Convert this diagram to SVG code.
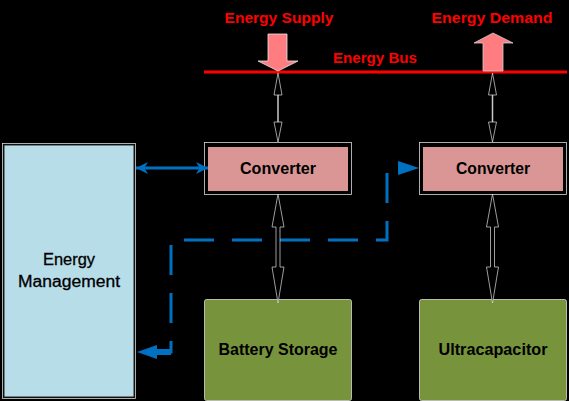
<svg xmlns="http://www.w3.org/2000/svg" width="569" height="401" viewBox="0 0 569 401">
<style>
.lbl{font-family:"Liberation Sans",Arial,sans-serif;font-weight:bold;font-size:16px;fill:#000;text-anchor:middle}
.red{font-family:"Liberation Sans",Arial,sans-serif;font-weight:bold;font-size:15.5px;fill:#FF0000;text-anchor:middle}
.em{font-family:"Liberation Sans",Arial,sans-serif;font-size:16px;fill:#000;text-anchor:middle;stroke:#000;stroke-width:0.3}
.conv{fill:#D99694;stroke:#000;stroke-width:3}
.outer{fill:none;stroke:#d8d8d8;stroke-width:0.8}
.store{fill:#77933C;stroke:#d8d8d8;stroke-width:0.8}
.blue{fill:none;stroke:#0070C0;stroke-width:3}
.thin{fill:#000;stroke:#e0e0e0;stroke-width:0.7}
</style>
<defs>
<marker id="bh" viewBox="0 0 10 10" refX="10" refY="5" markerWidth="8" markerHeight="4" markerUnits="strokeWidth" orient="auto-start-reverse">
<path d="M0,0 L10,5 L0,10 L3,5 z" fill="#0070C0"/>
</marker>
</defs>
<rect width="569" height="401" fill="#000"/>

<g id="energy-bus">
<line x1="204" y1="72" x2="567" y2="72" stroke="#FF0000" stroke-width="3"/>
<text class="red" x="375" y="63" textLength="84" lengthAdjust="spacingAndGlyphs">Energy Bus</text>
</g>
<g id="energy-supply">
<text class="red" x="279" y="23" textLength="109" lengthAdjust="spacingAndGlyphs">Energy Supply</text>
<polygon points="268,34 287,34 287,61 298,61 278,71 258,61 268,61" fill="#FF7C80" stroke="#e8e8e8" stroke-width="0.8"/>
</g>
<g id="energy-demand">
<text class="red" x="492" y="23" textLength="121" lengthAdjust="spacingAndGlyphs">Energy Demand</text>
<polygon points="493,33 513,43 503,43 503,71 483,71 483,43 474,43" fill="#FF7C80" stroke="#d0d0d0" stroke-width="0.8"/>
</g>

<g id="energy-management">
<rect x="2.5" y="143.5" width="133" height="255" class="outer"/>
<rect x="4" y="145" width="130" height="252" fill="#B7DDE8" stroke="#222" stroke-width="1"/>
<text class="em" x="69" y="265" textLength="52" lengthAdjust="spacingAndGlyphs">Energy</text>
<text class="em" x="69" y="287" textLength="102" lengthAdjust="spacingAndGlyphs">Management</text>
</g>

<g id="converter-1">
<rect x="204.5" y="142.5" width="147" height="52" class="outer"/>
<rect x="206.5" y="145.5" width="143" height="47" class="conv"/>
<text class="lbl" x="278" y="174" textLength="76" lengthAdjust="spacingAndGlyphs">Converter</text>
</g>
<g id="converter-2">
<rect x="419.5" y="142.5" width="147" height="52" class="outer"/>
<rect x="421.5" y="145.5" width="143" height="47" class="conv"/>
<text class="lbl" x="493" y="174" textLength="74" lengthAdjust="spacingAndGlyphs">Converter</text>
</g>

<g id="battery-storage">
<rect x="204.5" y="299.5" width="147" height="101" rx="2" class="store"/>
<text class="lbl" x="278" y="355" textLength="119" lengthAdjust="spacingAndGlyphs">Battery Storage</text>
</g>
<g id="ultracapacitor">
<rect x="419.5" y="299.5" width="147" height="101" rx="2" class="store"/>
<text class="lbl" x="493" y="355" textLength="109" lengthAdjust="spacingAndGlyphs">Ultracapacitor</text>
</g>

<g id="connectors">
<line x1="136" y1="168" x2="208" y2="168" class="blue" marker-start="url(#bh)" marker-end="url(#bh)"/>
<path d="M400,168 H387 V240 H171 V352 H152" class="blue" stroke-dasharray="30 18" stroke-dashoffset="30"/>
<polygon points="398,161 419,168 398,175" fill="#0070C0"/>
<polygon points="157,345 137,352 157,359 157,355 171,355 171,349 157,349" fill="#0070C0"/>

<line x1="278" y1="95" x2="278" y2="122" stroke="#c8c8c8" stroke-width="1.5"/>
<polygon points="278,73 274,95 282,95" class="thin"/>
<polygon points="278,142 274,122 282,122" class="thin"/>
<line x1="492.5" y1="95" x2="492.5" y2="122" stroke="#c8c8c8" stroke-width="1.5"/>
<polygon points="492.5,73 488.5,95 496.5,95" class="thin"/>
<polygon points="492.5,142 488.5,122 496.5,122" class="thin"/>

<polygon points="278,194 272,227 276,227 276,267 272,267 278,303 284,267 280,267 280,227 284,227" class="thin"/>
<polygon points="492.5,194 486.5,227 490.5,227 490.5,267 486.5,267 492.5,303 498.5,267 494.5,267 494.5,227 498.5,227" class="thin"/>
</g>
</svg>
